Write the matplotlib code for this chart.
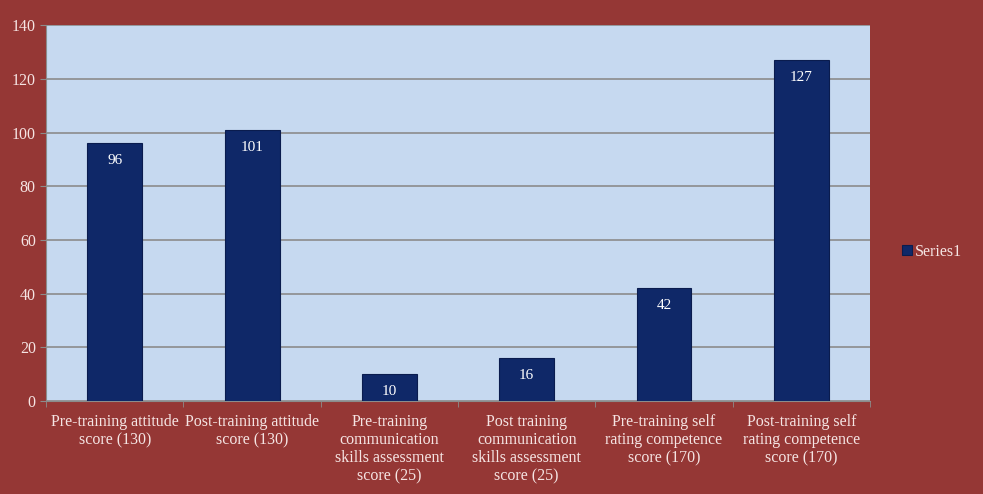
import matplotlib
matplotlib.use('Agg')
import matplotlib.pyplot as plt
import numpy as np

# data
categories = [
    'Pre-training attitude\nscore (130)',
    'Post-training attitude\nscore (130)',
    'Pre-training\ncommunication\nskills assessment\nscore (25)',
    'Post training\ncommunication\nskills assessment\nscore (25)',
    'Pre-training self\nrating competence\nscore (170)',
    'Post-training self\nrating competence\nscore (170)',
]
values = [96, 101, 10, 16, 42, 127]
series_name = 'Series1'

bg = '#953735'
plot_bg = '#C6D9F0'
bar_color = '#0F2868'
text_color = '#F5E4E3'

plt.rcParams['font.family'] = ['Liberation Serif', 'DejaVu Serif']

fig = plt.figure(figsize=(9.83, 4.94), dpi=100)
fig.patch.set_facecolor(bg)
ax = fig.add_axes([0.047, 0.188, 0.838, 0.761])
ax.set_facecolor(plot_bg)

x = np.arange(len(values))
bars = ax.bar(x, values, width=0.4, color=bar_color, edgecolor='#0A1C4E',
              linewidth=0.8, label=series_name, zorder=3)

# value labels inside the top of each bar
for xi, v in zip(x, values):
    ax.annotate(str(v), (xi, v), xytext=(0, -12.5), textcoords='offset points',
                ha='center', va='center', color='white', fontsize=11,
                zorder=5, annotation_clip=False,
                bbox=dict(boxstyle='square,pad=0.2', fc=bar_color, ec='none'))

ax.set_xlim(-0.5, len(values) - 0.5)
ax.set_ylim(0, 140)
ax.set_yticks(range(0, 141, 20))
ax.yaxis.grid(True, color='#8C8C8C', linewidth=1.2, zorder=1)
ax.set_axisbelow(True)

ax.set_xticks(np.arange(len(values) + 1) - 0.5, minor=True)
ax.set_xticks(x)
ax.set_xticklabels(categories, linespacing=1.2)
ax.tick_params(axis='x', which='major', length=0, colors=text_color,
               labelsize=11.5, pad=9)
ax.tick_params(axis='x', which='minor', length=4, color='#8C8C8C')
ax.tick_params(axis='y', length=4, color='#8C8C8C', colors=text_color,
               labelsize=11.5)
ax.tick_params(axis='y', which='both', color='#8C8C8C')

for s in ['top', 'right']:
    ax.spines[s].set_visible(False)
ax.spines['left'].set_color('#8C8C8C')
ax.spines['bottom'].set_color('#8C8C8C')

leg = fig.legend(handles=[bars], labels=[series_name], loc='center left',
                 bbox_to_anchor=(0.903, 0.49), frameon=False, fontsize=11.5,
                 handlelength=0.6, handleheight=0.6, handletextpad=0.2)
for t in leg.get_texts():
    t.set_color(text_color)

fig.savefig('out.png', dpi=100, facecolor=bg)
